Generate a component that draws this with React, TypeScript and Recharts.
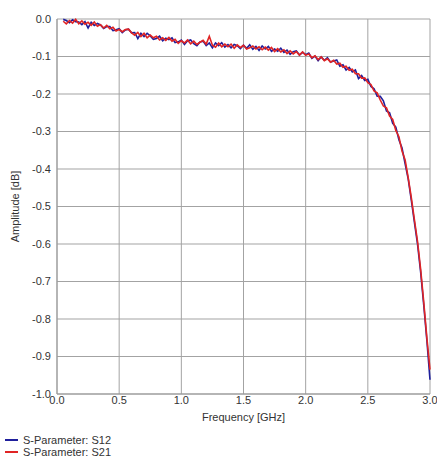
import { CartesianGrid, Line, LineChart, XAxis, YAxis } from "recharts";

const frequency = [
  0.05, 0.075, 0.1, 0.125, 0.15, 0.175, 0.2, 0.225, 0.25, 0.275, 0.3, 0.325, 0.35, 0.375, 0.4, 0.425, 0.45, 0.475,
  0.5, 0.525, 0.55, 0.575, 0.6, 0.625, 0.65, 0.675, 0.7, 0.725, 0.75, 0.775, 0.8, 0.825, 0.85, 0.875, 0.9, 0.925,
  0.95, 0.975, 1.0, 1.025, 1.05, 1.075, 1.1, 1.125, 1.15, 1.175, 1.2, 1.225, 1.25, 1.275, 1.3, 1.325, 1.35, 1.375,
  1.4, 1.425, 1.45, 1.475, 1.5, 1.525, 1.55, 1.575, 1.6, 1.625, 1.65, 1.675, 1.7, 1.725, 1.75, 1.775, 1.8, 1.825,
  1.85, 1.875, 1.9, 1.925, 1.95, 1.975, 2.0, 2.025, 2.05, 2.075, 2.1, 2.125, 2.15, 2.175, 2.2, 2.225, 2.25, 2.275,
  2.3, 2.325, 2.35, 2.375, 2.4, 2.425, 2.45, 2.475, 2.5, 2.525, 2.55, 2.575, 2.6, 2.625, 2.65, 2.675, 2.7, 2.725,
  2.75, 2.775, 2.8, 2.825, 2.85, 2.875, 2.9, 2.925, 2.95, 2.975, 3.0,
];

// S12, amplitude in dB
const s12 = [
  -0.001, -0.004, -0.01, -0.002, -0.007, -0.008, -0.015, -0.007, -0.024, -0.009, -0.017, -0.012, -0.016, -0.025,
  -0.02, -0.02, -0.031, -0.029, -0.026, -0.036, -0.029, -0.027, -0.037, -0.036, -0.052, -0.038, -0.047, -0.038,
  -0.045, -0.054, -0.052, -0.046, -0.058, -0.051, -0.055, -0.05, -0.063, -0.061, -0.056, -0.068, -0.058, -0.056,
  -0.066, -0.071, -0.061, -0.059, -0.071, -0.064, -0.077, -0.064, -0.071, -0.063, -0.075, -0.068, -0.077, -0.068,
  -0.071, -0.079, -0.07, -0.078, -0.069, -0.081, -0.073, -0.084, -0.072, -0.08, -0.073, -0.086, -0.08, -0.086,
  -0.078, -0.089, -0.083, -0.094, -0.087, -0.085, -0.096, -0.089, -0.095, -0.091, -0.105, -0.099, -0.111, -0.101,
  -0.11, -0.103, -0.115, -0.112, -0.109, -0.126, -0.122, -0.136, -0.129, -0.141, -0.136, -0.159, -0.151, -0.164,
  -0.161, -0.18, -0.186, -0.206, -0.206, -0.218, -0.245, -0.25, -0.278, -0.288, -0.322, -0.344, -0.386, -0.427,
  -0.484, -0.543, -0.601, -0.676, -0.764, -0.858, -0.962,
];

// S21, amplitude in dB
const s21 = [
  -0.006, -0.013, -0.004, -0.011, -0.001, -0.013, -0.005, -0.014, -0.009, -0.017, -0.008, -0.019, -0.015, -0.024,
  -0.017, -0.026, -0.022, -0.032, -0.028, -0.034, -0.028, -0.027, -0.037, -0.043, -0.036, -0.047, -0.038, -0.05,
  -0.043, -0.05, -0.046, -0.056, -0.05, -0.057, -0.049, -0.059, -0.054, -0.065, -0.058, -0.064, -0.056, -0.066,
  -0.059, -0.068, -0.062, -0.057, -0.067, -0.046, -0.07, -0.075, -0.064, -0.074, -0.067, -0.074, -0.067, -0.078,
  -0.069, -0.076, -0.07, -0.08, -0.077, -0.072, -0.08, -0.074, -0.082, -0.075, -0.083, -0.076, -0.087, -0.079,
  -0.088, -0.082, -0.092, -0.085, -0.093, -0.087, -0.096, -0.088, -0.097, -0.093, -0.103, -0.098, -0.108, -0.101,
  -0.111, -0.106, -0.115, -0.11, -0.12, -0.118, -0.129, -0.126, -0.137, -0.134, -0.146, -0.146, -0.158, -0.157,
  -0.17, -0.175, -0.192, -0.197, -0.216, -0.232, -0.237, -0.259, -0.268, -0.297, -0.314, -0.352, -0.376, -0.424,
  -0.477, -0.536, -0.594, -0.668, -0.756, -0.851, -0.935,
];

const xTicks = [0, 0.5, 1.0, 1.5, 2.0, 2.5, 3.0];
const yTicks = [0, -0.1, -0.2, -0.3, -0.4, -0.5, -0.6, -0.7, -0.8, -0.9, -1.0];

const series = [
  { key: "s12", name: "S-Parameter: S12", color: "#1f1f9c" },
  { key: "s21", name: "S-Parameter: S21", color: "#e02424" },
];

const data = frequency.map((f, i) => ({ f, s12: s12[i], s21: s21[i] }));

const font = "'Liberation Sans', Arial, sans-serif";
const textColor = "#333";
const fmt = (v: number) => v.toFixed(1);

export default function App() {
  return (
    <div style={{ position: "absolute", left: 0, top: 0, width: 437, height: 462, background: "#fff", fontFamily: font }}>
      <LineChart width={437} height={462} data={data} margin={{ top: 19, right: 7, bottom: 28, left: 7 }}>
        <CartesianGrid stroke="#a3a3a3" strokeWidth={1} />
        <XAxis
          dataKey="f"
          type="number"
          domain={[0, 3]}
          ticks={xTicks}
          tickFormatter={fmt}
          height={40}
          tickLine={false}
          tickSize={0}
          tickMargin={2}
          stroke="#999"
          tick={{ fill: textColor, fontSize: 11, fontFamily: font }}
          label={{ value: "Frequency [GHz]", position: "insideTop", offset: 19, fill: textColor, fontSize: 11, fontFamily: font }}
        />
        <YAxis
          type="number"
          domain={[-1, 0]}
          ticks={yTicks}
          tickFormatter={fmt}
          width={50}
          tickLine={false}
          tickSize={4}
          tickMargin={2}
          stroke="#999"
          tick={{ fill: textColor, fontSize: 11, fontFamily: font }}
          label={{
            value: "Amplitude [dB]",
            angle: -90,
            position: "insideLeft",
            offset: 8,
            style: { textAnchor: "middle" },
            fill: textColor,
            fontSize: 11,
            fontFamily: font,
          }}
        />
        {series.map((s) => (
          <Line
            key={s.key}
            dataKey={s.key}
            name={s.name}
            stroke={s.color}
            strokeWidth={1.6}
            dot={false}
            type="linear"
            isAnimationActive={false}
          />
        ))}
      </LineChart>
      <div style={{ position: "absolute", left: 5, top: 434 }}>
        {series.map((s) => (
          <div key={s.key} style={{ display: "flex", alignItems: "center", height: 12, fontSize: 11, color: textColor }}>
            <span style={{ display: "inline-block", width: 13, height: 2, background: s.color, marginRight: 5 }} />
            {s.name}
          </div>
        ))}
      </div>
    </div>
  );
}
